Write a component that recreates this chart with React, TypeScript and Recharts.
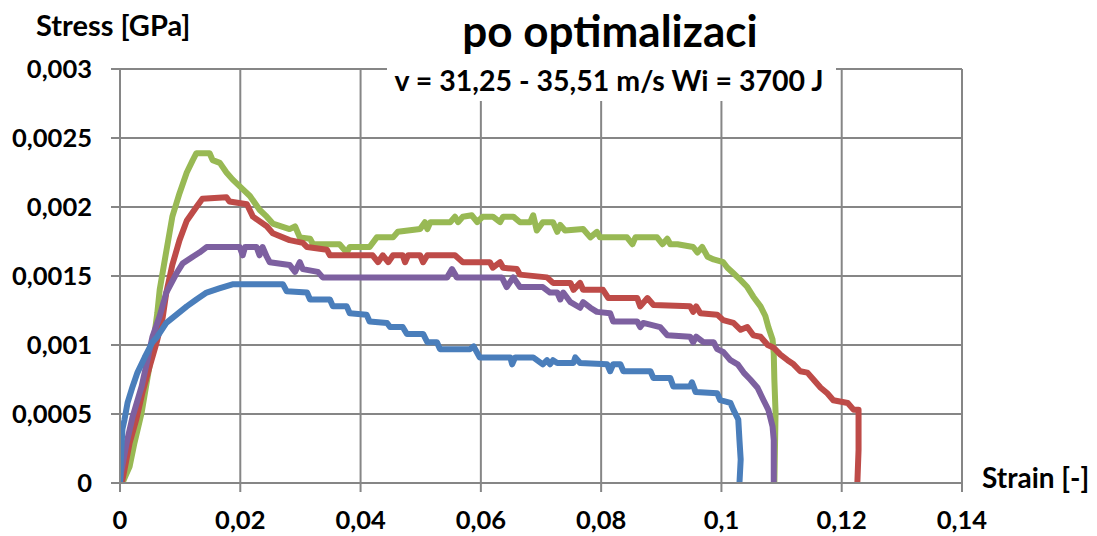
import React from 'react';
import { LineChart, Line, XAxis, YAxis, CartesianGrid } from 'recharts';

const xTicks = [0, 0.02, 0.04, 0.06, 0.08, 0.1, 0.12, 0.14];
const yTicks = [0, 0.0005, 0.001, 0.0015, 0.002, 0.0025, 0.003];

const blueSeries: number[][] = [
  [0,0],[0.0002,0.00022],[0.0004,0.00039],[0.00075,0.00046],[0.00125,0.00058],[0.0021,0.0007],[0.0029,0.0008],[0.0041,0.00091],[0.0054,0.00102],[0.0062,0.00106],[0.0077,0.00116],[0.0094,0.00122],[0.0111,0.00128],[0.0127,0.00133],[0.0144,0.00138],[0.0165,0.00141],[0.0187,0.00144],[0.0271,0.00144],[0.0277,0.00139],[0.0311,0.00138],[0.0316,0.00133],[0.0349,0.00133],[0.0354,0.00128],[0.0377,0.00128],[0.0382,0.00123],[0.041,0.00122],[0.0415,0.00117],[0.0444,0.00116],[0.0449,0.00113],[0.047,0.00113],[0.0477,0.00108],[0.0504,0.00108],[0.0511,0.00102],[0.0527,0.00102],[0.0532,0.00097],[0.0582,0.00097],[0.0588,0.00099],[0.0598,0.00091],[0.0649,0.00091],[0.0652,0.00086],[0.0657,0.00091],[0.0687,0.00091],[0.0703,0.00086],[0.071,0.00089],[0.0715,0.00086],[0.072,0.00089],[0.0727,0.00087],[0.0754,0.00087],[0.0757,0.00091],[0.0765,0.00087],[0.081,0.00086],[0.0815,0.00081],[0.082,0.00086],[0.0832,0.00086],[0.0837,0.00081],[0.0882,0.00081],[0.0887,0.00076],[0.0915,0.00076],[0.092,0.0007],[0.0948,0.0007],[0.0951,0.00073],[0.0957,0.00066],[0.0993,0.00065],[0.0998,0.0006],[0.1015,0.00058],[0.102,0.00053],[0.1028,0.00046],[0.103,0.00031],[0.1032,0.00017],[0.103,0]
];

const redSeries: number[][] = [
  [0,0],[0.0004,0.00002],[0.0016,0.00029],[0.0027,0.00046],[0.0037,0.00065],[0.0049,0.00084],[0.0061,0.00102],[0.0071,0.0012],[0.0077,0.00138],[0.0087,0.00158],[0.0099,0.00176],[0.0111,0.0019],[0.0127,0.002],[0.0137,0.00206],[0.0177,0.00207],[0.0182,0.00204],[0.0211,0.00202],[0.0221,0.00193],[0.0244,0.00186],[0.0254,0.00181],[0.0282,0.00176],[0.0304,0.00174],[0.0311,0.00171],[0.0344,0.00169],[0.0349,0.00165],[0.042,0.00165],[0.0429,0.0016],[0.0437,0.00165],[0.0446,0.0016],[0.0454,0.00165],[0.047,0.00165],[0.0474,0.0016],[0.0479,0.00165],[0.0499,0.00165],[0.0504,0.0016],[0.0511,0.00165],[0.0557,0.00165],[0.057,0.0016],[0.0615,0.0016],[0.062,0.00156],[0.0632,0.0016],[0.0637,0.00156],[0.066,0.00155],[0.0665,0.00151],[0.071,0.00149],[0.072,0.00145],[0.0749,0.00145],[0.0754,0.0014],[0.0765,0.00145],[0.077,0.0014],[0.0803,0.0014],[0.0812,0.00134],[0.086,0.00134],[0.0865,0.00128],[0.0877,0.00134],[0.0887,0.00129],[0.0948,0.00128],[0.0953,0.00124],[0.0958,0.00128],[0.0965,0.00123],[0.0993,0.00122],[0.1003,0.00118],[0.102,0.00116],[0.1032,0.00111],[0.1043,0.00113],[0.1053,0.00107],[0.1065,0.00106],[0.1077,0.001],[0.1087,0.00098],[0.1098,0.00093],[0.111,0.00089],[0.112,0.00086],[0.1131,0.00081],[0.1143,0.0008],[0.1153,0.00075],[0.1165,0.00069],[0.1176,0.00065],[0.1186,0.0006],[0.121,0.00058],[0.122,0.00053],[0.1228,0.00053],[0.1228,0.00024],[0.1226,0]
];

const greenSeries: number[][] = [
  [0.0004,0],[0.0011,0.00007],[0.0016,0.00012],[0.0024,0.00029],[0.0036,0.00051],[0.0046,0.00077],[0.0054,0.00097],[0.0062,0.00123],[0.0066,0.0014],[0.0077,0.00168],[0.0087,0.00193],[0.0099,0.0021],[0.0111,0.00225],[0.0121,0.00234],[0.0127,0.00239],[0.0149,0.00239],[0.0154,0.00234],[0.0166,0.00232],[0.0177,0.00225],[0.0187,0.0022],[0.0204,0.00213],[0.0216,0.00208],[0.0232,0.00198],[0.0244,0.00193],[0.0254,0.00188],[0.0282,0.00184],[0.0291,0.00186],[0.0299,0.00178],[0.0316,0.00177],[0.0321,0.00173],[0.0365,0.00173],[0.0377,0.00167],[0.0382,0.00171],[0.0415,0.00171],[0.0427,0.00178],[0.0454,0.00178],[0.0462,0.00182],[0.0499,0.00184],[0.0507,0.00189],[0.0511,0.00184],[0.0516,0.00189],[0.0549,0.00189],[0.0557,0.00193],[0.0562,0.00189],[0.057,0.00193],[0.0585,0.00194],[0.0594,0.00189],[0.0603,0.00193],[0.062,0.00193],[0.0632,0.00189],[0.0637,0.00193],[0.0654,0.00193],[0.0665,0.00189],[0.0682,0.00189],[0.0687,0.00194],[0.0693,0.00183],[0.0703,0.00189],[0.072,0.00189],[0.0727,0.00182],[0.0732,0.00187],[0.074,0.00183],[0.077,0.00184],[0.0782,0.00178],[0.0793,0.00182],[0.0798,0.00178],[0.0843,0.00178],[0.0852,0.00173],[0.0857,0.00178],[0.0893,0.00178],[0.0902,0.00173],[0.091,0.00177],[0.0915,0.00173],[0.0927,0.00173],[0.0953,0.00171],[0.096,0.00167],[0.0968,0.00171],[0.0977,0.00164],[0.0987,0.00162],[0.1003,0.0016],[0.101,0.00156],[0.102,0.00152],[0.1032,0.00147],[0.1043,0.00142],[0.1053,0.00135],[0.1065,0.00128],[0.1073,0.00121],[0.1078,0.00113],[0.1085,0.00104],[0.1087,0.00094],[0.1088,0.00075],[0.109,0.00051],[0.1088,0]
];

const purpleSeries: number[][] = [
  [0,0],[0.0002,0.00008],[0.0011,0.00029],[0.0021,0.00048],[0.0036,0.0007],[0.0046,0.0009],[0.0054,0.00106],[0.0066,0.00121],[0.0077,0.00138],[0.0094,0.00152],[0.0104,0.00159],[0.0121,0.00164],[0.0132,0.00167],[0.0144,0.00171],[0.0199,0.00171],[0.0204,0.00165],[0.0208,0.00171],[0.0227,0.00171],[0.0232,0.00165],[0.0237,0.00171],[0.0244,0.00164],[0.0249,0.0016],[0.0282,0.00158],[0.0291,0.00153],[0.0299,0.0016],[0.0304,0.00155],[0.0329,0.00153],[0.0337,0.00149],[0.0544,0.00149],[0.0552,0.00155],[0.056,0.00149],[0.0635,0.00149],[0.0643,0.00142],[0.0654,0.00149],[0.0665,0.00142],[0.0703,0.00142],[0.0715,0.00138],[0.0727,0.00138],[0.0732,0.00133],[0.0737,0.00138],[0.0749,0.00131],[0.0765,0.00127],[0.077,0.00131],[0.0782,0.00127],[0.0793,0.00124],[0.0815,0.00123],[0.082,0.00117],[0.086,0.00117],[0.0865,0.00113],[0.087,0.00116],[0.0898,0.00113],[0.091,0.00107],[0.0948,0.00106],[0.0953,0.00102],[0.0958,0.00106],[0.097,0.00102],[0.0987,0.00102],[0.0993,0.00097],[0.1003,0.00095],[0.1015,0.00089],[0.1027,0.00086],[0.1037,0.0008],[0.1048,0.00075],[0.106,0.00069],[0.107,0.0006],[0.1078,0.00053],[0.1085,0.00041],[0.1087,0.00031],[0.1087,0]
];

const toPoints = (s: number[][]) => s.map(([x, y]) => ({ x, y }));

const FONT = "Lato, 'Open Sans', sans-serif";
const GRID = '#868686';
const fmt = (v: number) => String(v).replace('.', ',');

const seriesList = [
  { name: 'green', data: greenSeries, color: '#98B954' },
  { name: 'red', data: redSeries, color: '#BE4B48' },
  { name: 'purple', data: purpleSeries, color: '#7D60A0' },
  { name: 'blue', data: blueSeries, color: '#4A7EBB' },
];

export default function App() {
  const tickStyle = { fill: '#000', fontSize: 25.5, fontWeight: 700, fontFamily: FONT };
  return (
    <div style={{ position: 'absolute', left: 0, top: 0, width: 1097, height: 536, background: '#fff' }}>
      <LineChart width={1097} height={536} margin={{ top: 69, right: 135, bottom: 13, left: 0 }}>
        <CartesianGrid stroke={GRID} strokeWidth={2} />
        <XAxis
          type="number"
          dataKey="x"
          domain={[0, 0.14]}
          ticks={xTicks}
          tickFormatter={fmt}
          height={40}
          tickSize={9}
          tickMargin={19}
          axisLine={{ stroke: GRID, strokeWidth: 2 }}
          tickLine={{ stroke: GRID, strokeWidth: 2 }}
          tick={tickStyle}
          allowDataOverflow
        />
        <YAxis
          type="number"
          dataKey="y"
          domain={[0, 0.003]}
          ticks={yTicks}
          tickFormatter={fmt}
          width={120}
          tickSize={9}
          tickMargin={19}
          axisLine={{ stroke: GRID, strokeWidth: 2 }}
          tickLine={{ stroke: GRID, strokeWidth: 2 }}
          tick={tickStyle}
          allowDataOverflow
        />
        {seriesList.map((s) => (
          <Line
            key={s.name}
            data={toPoints(s.data)}
            dataKey="y"
            type="linear"
            stroke={s.color}
            strokeWidth={6}
            strokeLinejoin="round"
            strokeLinecap="round"
            dot={false}
            activeDot={false}
            isAnimationActive={false}
          />
        ))}
      </LineChart>
      <svg width={1097} height={536} style={{ position: 'absolute', left: 0, top: 0, pointerEvents: 'none' }}>
        <text x={610} y={47} textAnchor="middle" fontFamily={FONT} fontWeight={700} fontSize={44} fill="#000">po optimalizaci</text>
        <rect x={387} y={66} width={449} height={35} fill="#fff" />
        <text x={609} y={91} textAnchor="middle" fontFamily={FONT} fontWeight={700} fontSize={28.5} fill="#000">v = 31,25 - 35,51 m/s Wi = 3700 J</text>
        <text x={36} y={36} fontFamily={FONT} fontWeight={700} fontSize={29} fill="#000">Stress [GPa]</text>
        <text x={982} y={488} fontFamily={FONT} fontWeight={700} fontSize={28} fill="#000">Strain [-]</text>
      </svg>
    </div>
  );
}
